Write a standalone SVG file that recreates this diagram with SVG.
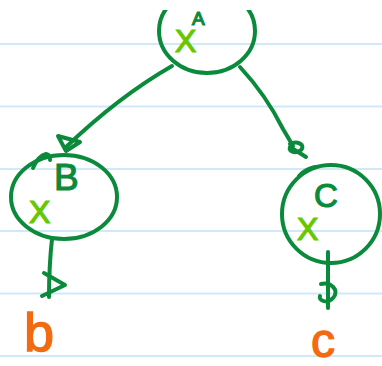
<svg xmlns="http://www.w3.org/2000/svg" width="382" height="366" viewBox="0 0 382 366">
<defs>
<style>
.rule{stroke:#cfe9f8;stroke-width:2;}
.pen{fill:none;stroke:#0b8a3b;stroke-width:4;stroke-linecap:round;stroke-linejoin:round;}
.lbl{fill:#0b8a3b;stroke:#0b8a3b;stroke-width:1.2;font-family:"Liberation Sans",Arial,sans-serif;}
.mark{fill:#66c800;stroke:#66c800;stroke-width:1.2;font-family:"Liberation Sans",Arial,sans-serif;font-size:32px;}
.leaf{fill:#f26b11;stroke:#f26b11;stroke-width:1.4;font-family:"Liberation Sans",Arial,sans-serif;}
</style>
<clipPath id="page"><rect x="0" y="10" width="382" height="356"/></clipPath>
</defs>
<rect width="382" height="366" fill="#ffffff"/>
<g id="paper">
<line class="rule" x1="0" y1="44" x2="382" y2="44"/>
<line class="rule" x1="0" y1="106.5" x2="382" y2="106.5"/>
<line class="rule" x1="0" y1="169" x2="382" y2="169"/>
<line class="rule" x1="0" y1="231" x2="382" y2="231"/>
<line class="rule" x1="0" y1="293.5" x2="382" y2="293.5"/>
<line class="rule" x1="0" y1="356" x2="382" y2="356"/>
</g>
<g id="connectors">
<path class="pen" d="M172,66 Q118,97 65,148"/>
<path class="pen" d="M58,136 L80,142 L66,151 Z"/>
<path class="pen" d="M240,67 Q266,95 283,129 Q289,139 293,146"/>
<path class="pen" d="M290,144 C297,140 306,145 301,150 C296,154 288,152 290,147 L306,157"/>
<path class="pen" d="M52,239 Q49,266 49,297"/>
<path class="pen" d="M44,273 L65,285 L42,296"/>
<path class="pen" d="M328,252 L328,308"/>
<path class="pen" d="M321,284 C331,282 340,290 333,298 C328,304 318,301 320,296"/>
</g>
<g id="nodeA">
<ellipse class="pen" cx="207" cy="31" rx="48" ry="42" clip-path="url(#page)"/>
<text class="lbl" x="192" y="25" font-size="19">A</text>
<text class="mark" x="175" y="52">X</text>
</g>
<g id="nodeB">
<ellipse class="pen" cx="64" cy="197" rx="53" ry="42"/>
<path class="pen" d="M33,168 Q38,156 46,154 Q51,155 50,160"/>
<text class="lbl" x="54" y="190" font-size="37">B</text>
<text class="mark" x="29" y="223">X</text>
</g>
<g id="nodeC">
<ellipse class="pen" cx="331" cy="214" rx="49" ry="49"/>
<path class="pen" d="M299,176 Q305,169 315,167" stroke-width="6"/>
<text class="lbl" x="314" y="207" font-size="33">C</text>
<text class="mark" x="297" y="240">X</text>
</g>
<g id="leafB">
<text class="leaf" x="24" y="351" font-size="54">b</text>
</g>
<g id="leafC">
<text class="leaf" x="311" y="357" font-size="48">c</text>
</g>
</svg>
